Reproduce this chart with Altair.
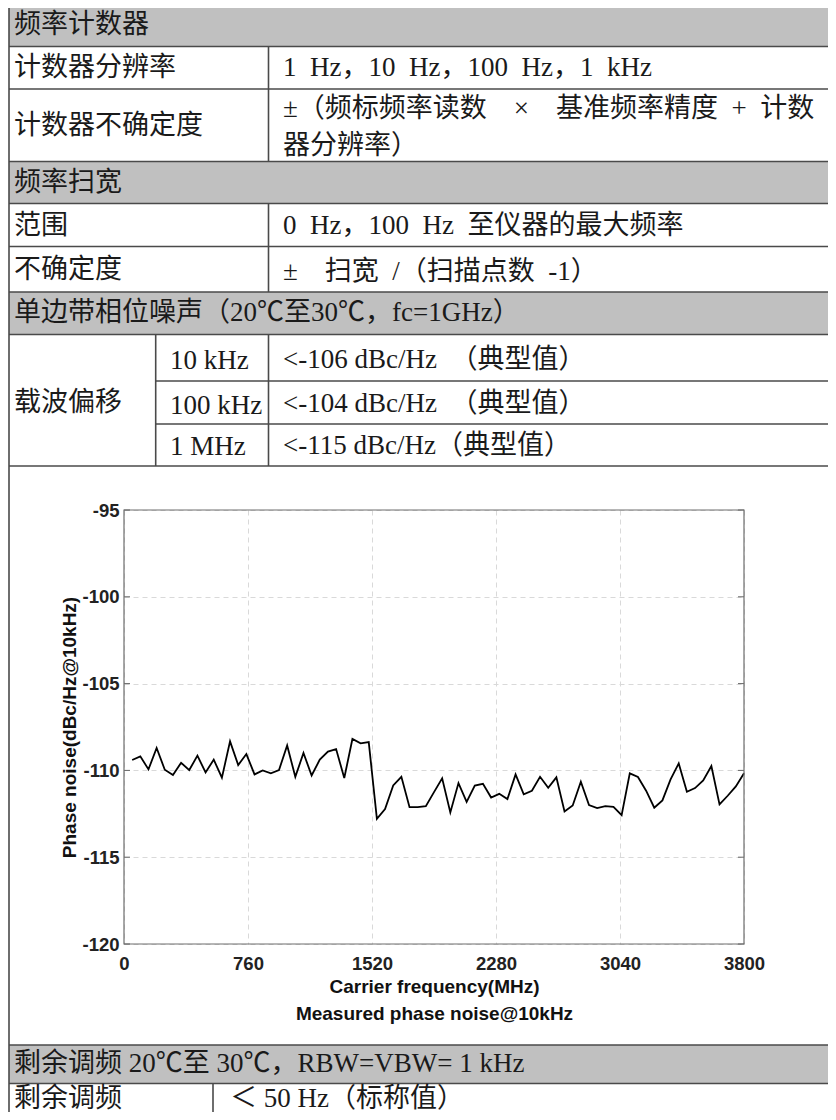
import altair as alt
import pandas as pd

# ---------------- chart data ----------------
FREQ_MHZ = [50, 100, 150, 200, 250, 300, 350, 400, 450, 500,
            550, 600, 650, 700, 750, 800, 850, 900, 950, 1000,
            1050, 1100, 1150, 1200, 1250, 1300, 1350, 1400, 1450, 1500,
            1550, 1600, 1650, 1700, 1750, 1800, 1850, 1900, 1950, 2000,
            2050, 2100, 2150, 2200, 2250, 2300, 2350, 2400, 2450, 2500,
            2550, 2600, 2650, 2700, 2750, 2800, 2850, 2900, 2950, 3000,
            3050, 3100, 3150, 3200, 3250, 3300, 3350, 3400, 3450, 3500,
            3550, 3600, 3650, 3700, 3750, 3800]
PHASE_NOISE = [-109.40, -109.19, -109.94, -108.71, -109.96, -110.27, -109.56, -109.98, -109.15, -110.12,
               -109.38, -110.42, -108.33, -109.69, -109.06, -110.23, -110.00, -110.17, -109.98, -108.56,
               -110.37, -109.00, -110.29, -109.38, -108.92, -108.77, -110.44, -108.19, -108.44, -108.37,
               -112.79, -112.23, -110.87, -110.37, -112.12, -112.12, -112.06, -111.25, -110.46, -112.42,
               -110.73, -111.81, -110.87, -110.77, -111.56, -111.35, -111.65, -110.23, -111.38, -111.17,
               -110.37, -111.00, -110.40, -112.37, -112.02, -110.65, -112.00, -112.17, -112.06, -112.10,
               -112.58, -110.17, -110.38, -111.17, -112.15, -111.73, -110.52, -109.60, -111.23, -111.02,
               -110.58, -109.75, -111.96, -111.46, -110.92, -110.17]
X_TICKS = [0, 760, 1520, 2280, 3040, 3800]
Y_TICKS = [-120, -115, -110, -105, -100, -95]
X_TITLE = ["Carrier frequency(MHz)", "Measured phase noise@10kHz"]
Y_TITLE = "Phase noise(dBc/Hz@10kHz)"

# ---------------- table text ----------------
EN = "\u2002"  # half-width space, as in the original typesetting
HEADERS = ["频率计数器", "频率扫宽", "单边带相位噪声（20℃至30℃，fc=1GHz）",
           "剩余调频 20℃至 30℃，RBW=VBW= 1 kHz"]
LEFT_LABELS = ["计数器分辨率", "计数器不确定度", "范围", "不确定度", "载波偏移", "剩余调频"]
RIGHT_VALUES = [f"1{EN}Hz，10{EN}Hz，100{EN}Hz，1{EN}kHz",
                f"±（频标频率读数{EN}{EN}×{EN}{EN}基准频率精度{EN}+{EN}计数",
                "器分辨率）",
                f"0{EN}Hz，100{EN}Hz{EN}至仪器的最大频率",
                f"±{EN}{EN}扫宽{EN}/（扫描点数{EN}-1）",
                "＜ 50 Hz（标称值）"]
OFFSETS = ["10 kHz", "100 kHz", "1 MHz"]
OFFSET_VALUES = [f"<-106 dBc/Hz{EN}（典型值）", f"<-104 dBc/Hz{EN}（典型值）", "<-115 dBc/Hz（典型值）"]

# ---------------- layout (page pixels) ----------------
TXT_FONT = "'Liberation Serif', 'Noto Sans CJK SC', serif"
CH_FONT = "'Liberation Sans', Arial, sans-serif"
PX0, PX1 = 124, 744      # plot area horizontal extent
PY0, PY1 = 510, 944      # plot area vertical extent
W, H = PX1 - PX0, PY1 - PY0

ROW = [4, 46.5, 89, 161.5, 203.5, 246.5, 292, 334.5, 381, 424, 466, 1045, 1083.5, 1130]
LEFT, RIGHT = 9, 840
COL_A, COL_B, COL_C = 268.5, 155.7, 213
LINE_COLOR = "#4a4a4a"
HEAD_FILL = "#c0c0c0"
TXT_SIZE = 27

head_rows = [0, 3, 6, 11]
rect_df = pd.DataFrame({
    "x": [LEFT] * 4, "x2": [RIGHT] * 4,
    "y": [ROW[i] for i in head_rows], "y2": [ROW[i + 1] for i in head_rows]})

hx, hx2, hy = [], [], []
for e in ROW[:-1]:
    hx.append(COL_B if e in (381, 424) else LEFT)
    hx2.append(RIGHT)
    hy.append(e)
hrule_df = pd.DataFrame({"x": hx, "x2": hx2, "y": hy, "y2": hy})

vsegs = [(LEFT, ROW[0], ROW[-1]), (COL_A, ROW[1], ROW[3]), (COL_A, ROW[4], ROW[6]),
         (COL_B, ROW[7], ROW[10]), (COL_A, ROW[7], ROW[10]), (COL_C, ROW[12], ROW[13])]
vrule_df = pd.DataFrame({"x": [s[0] for s in vsegs], "x2": [s[0] for s in vsegs],
                         "y": [s[1] for s in vsegs], "y2": [s[2] for s in vsegs]})

TX_L, TX_R, TX_M, TX_LAST = 14, 283, 170, 230
text_pos = [
    (TX_L, 25, HEADERS[0]),
    (TX_L, 68, LEFT_LABELS[0]), (TX_R, 68, RIGHT_VALUES[0]),
    (TX_L, 126, LEFT_LABELS[1]), (TX_R, 109, RIGHT_VALUES[1]), (TX_R, 146, RIGHT_VALUES[2]),
    (TX_L, 183, HEADERS[1]),
    (TX_L, 226, LEFT_LABELS[2]), (TX_R, 226, RIGHT_VALUES[3]),
    (TX_L, 270, LEFT_LABELS[3]), (TX_R, 272, RIGHT_VALUES[4]),
    (TX_L, 313, HEADERS[2]),
    (TX_L, 403, LEFT_LABELS[4]),
    (TX_M, 361, OFFSETS[0]), (TX_R, 360, OFFSET_VALUES[0]),
    (TX_M, 406, OFFSETS[1]), (TX_R, 404, OFFSET_VALUES[1]),
    (TX_M, 447, OFFSETS[2]), (TX_R, 446, OFFSET_VALUES[2]),
    (TX_L, 1064, HEADERS[3]),
    (TX_L, 1099, LEFT_LABELS[5]), (TX_LAST, 1099, RIGHT_VALUES[5]),
]
text_df = pd.DataFrame({"x": [p[0] for p in text_pos], "y": [p[1] for p in text_pos],
                        "t": [p[2] for p in text_pos]})

TXS = alt.Scale(domain=[PX0, PX1], nice=False, zero=False)
TYS = alt.Scale(domain=[PY1, PY0], nice=False, zero=False)

rects = alt.Chart(rect_df).mark_rect(color=HEAD_FILL).encode(
    x=alt.X("x:Q", scale=TXS, axis=None), x2="x2:Q",
    y=alt.Y("y:Q", scale=TYS, axis=None), y2="y2:Q")
hrules = alt.Chart(hrule_df).mark_rule(color=LINE_COLOR, strokeWidth=1.6).encode(
    x=alt.X("x:Q", scale=TXS, axis=None), x2="x2:Q",
    y=alt.Y("y:Q", scale=TYS, axis=None), y2="y2:Q")
vrules = alt.Chart(vrule_df).mark_rule(color=LINE_COLOR, strokeWidth=1.6).encode(
    x=alt.X("x:Q", scale=TXS, axis=None), x2="x2:Q",
    y=alt.Y("y:Q", scale=TYS, axis=None), y2="y2:Q")
texts = alt.Chart(text_df).mark_text(
    align="left", baseline="middle", font=TXT_FONT, fontSize=TXT_SIZE, color="#1a1a1a").encode(
    x=alt.X("x:Q", scale=TXS, axis=None),
    y=alt.Y("y:Q", scale=TYS, axis=None),
    text="t:N")
table = alt.layer(rects, hrules, vrules, texts)

# ---------------- line chart ----------------
line_df = pd.DataFrame({"f": FREQ_MHZ, "v": PHASE_NOISE})
tick_df = pd.DataFrame({"v": Y_TICKS})
box_df = pd.DataFrame({"b": [0]})

XS = alt.Scale(domain=[0, 3800], nice=False, zero=False)
YS = alt.Scale(domain=[-120, -95], nice=False, zero=False)

line = alt.Chart(line_df).mark_line(color="black", strokeWidth=1.8).encode(
    x=alt.X("f:Q", scale=XS, axis=alt.Axis(
        orient="bottom", values=X_TICKS, format="d", grid=True, ticks=False, domain=False,
        gridColor="#d9d9d9", gridDash=[5, 4], gridWidth=1,
        labelFont=CH_FONT, labelFontSize=18.5, labelFontWeight="bold", labelColor="#222",
        labelPadding=10, labelFlush=False, labelOverlap=False,
        title=X_TITLE, titleFont=CH_FONT, titleFontSize=19, titleFontWeight="bold",
        titleColor="#111", titlePadding=5, titleLineHeight=27)),
    y=alt.Y("v:Q", scale=YS, axis=alt.Axis(
        orient="left", values=Y_TICKS, labelExpr="'' + datum.value", grid=True, ticks=False,
        domain=False, gridColor="#d9d9d9", gridDash=[5, 4], gridWidth=1,
        labelFont=CH_FONT, labelFontSize=18.5, labelFontWeight="bold", labelColor="#222",
        labelPadding=5, labelFlush=False, labelOverlap=False,
        title=Y_TITLE, titleFont=CH_FONT, titleFontSize=19, titleFontWeight="bold",
        titleColor="#111", titlePadding=2)),
)
ticks_left = alt.Chart(tick_df).mark_rule(color="#666", strokeWidth=1).encode(
    y=alt.Y("v:Q", scale=YS), x=alt.value(0), x2=alt.value(6))
ticks_right = alt.Chart(tick_df).mark_rule(color="#666", strokeWidth=1).encode(
    y=alt.Y("v:Q", scale=YS), x=alt.value(W - 6), x2=alt.value(W))
box = alt.Chart(box_df).mark_rect(fillOpacity=0, stroke="#6e6e6e", strokeWidth=1.2).encode(
    x=alt.value(0), x2=alt.value(W), y=alt.value(0), y2=alt.value(H))
plot = alt.layer(line, ticks_left, ticks_right, box)

chart = alt.layer(table, plot).resolve_scale(
    x="independent", y="independent"
).properties(
    width=W, height=H,
    padding={"left": PX0 - 8, "top": PY0 - 8, "right": 84, "bottom": 168},
    autosize=alt.AutoSizeParams(type="none"),
    background="white",
).configure_view(strokeWidth=0)

chart.save("out.html", embed_options={"renderer": "svg", "actions": False})
